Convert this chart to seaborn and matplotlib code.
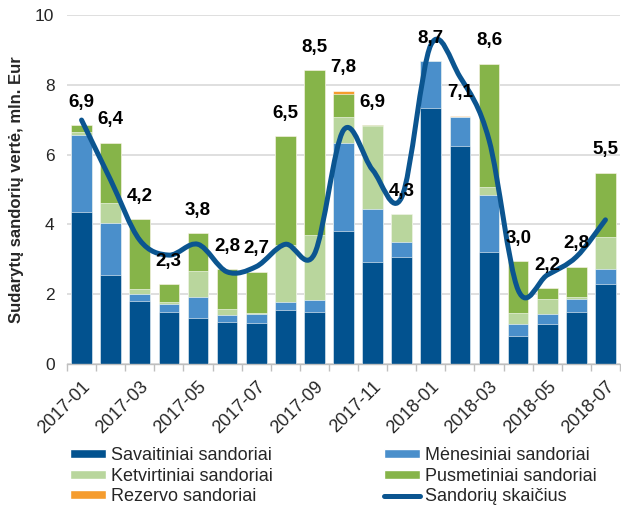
import numpy as np
import pandas as pd
import matplotlib
matplotlib.use("Agg")
import matplotlib.pyplot as plt
from matplotlib.path import Path
from matplotlib.patches import PathPatch, Patch
from matplotlib.lines import Line2D
import seaborn as sns

months = ["2017-01", "2017-02", "2017-03", "2017-04", "2017-05", "2017-06", "2017-07",
          "2017-08", "2017-09", "2017-10", "2017-11", "2017-12", "2018-01", "2018-02",
          "2018-03", "2018-04", "2018-05", "2018-06", "2018-07"]
savaitiniai = [4.35, 2.55, 1.81, 1.50, 1.33, 1.21, 1.18, 1.55, 1.50, 3.82, 2.91, 3.07, 7.33, 6.26, 3.22, 0.80, 1.15, 1.50, 2.28]
menesiniai = [2.20, 1.48, 0.19, 0.22, 0.60, 0.19, 0.24, 0.24, 0.33, 2.52, 1.53, 0.43, 1.35, 0.83, 1.62, 0.35, 0.28, 0.36, 0.44]
ketvirtiniai = [0.10, 0.57, 0.15, 0.07, 0.74, 0.17, 0.05, 1.62, 1.88, 0.73, 2.38, 0.79, 0.00, 0.00, 0.22, 0.30, 0.43, 0.07, 0.92]
pusmetiniai = [0.20, 1.74, 2.00, 0.49, 1.07, 1.15, 1.17, 3.12, 4.71, 0.67, 0.03, 0.00, 0.00, 0.00, 3.54, 1.50, 0.32, 0.86, 1.84]
rezervo = [0.00, 0.00, 0.00, 0.00, 0.00, 0.00, 0.00, 0.00, 0.00, 0.09, 0.00, 0.00, 0.00, 0.03, 0.00, 0.00, 0.00, 0.00, 0.00]
total_labels = ["6,9", "6,4", "4,2", "2,3", "3,8", "2,8", "2,7", "6,5", "8,5", "7,8",
                "6,9", "4,3", "8,7", "7,1", "8,6", "3,0", "2,2", "2,8", "5,5"]
sandoriu_skaicius = [6.99, 5.27, 3.55, 3.12, 3.43, 2.64, 2.79, 3.43, 3.15, 6.70,
                     5.56, 4.78, 9.14, 8.23, 6.42, 2.12, 2.55, 3.07, 4.13]
yticks = [0, 2, 4, 6, 8, 10]

series_names = ["Savaitiniai sandoriai", "Mėnesiniai sandoriai", "Ketvirtiniai sandoriai",
                "Pusmetiniai sandoriai", "Rezervo sandoriai"]
series_vals = [savaitiniai, menesiniai, ketvirtiniai, pusmetiniai, rezervo]
colors = ["#02528F", "#4A8FCB", "#B9D69D", "#86B449", "#F59C2E"]
line_color = "#0B5590"
line_name = "Sandorių skaičius"

sns.set_theme(style="white")
plt.rcParams['font.family'] = ['Liberation Sans', 'DejaVu Sans']

fig = plt.figure(figsize=(6.21, 5.07), dpi=100)
ax = fig.add_axes([67 / 621, 1 - 364 / 507, 553 / 621, 349 / 507])

cum = np.zeros(len(months))
cums = []
for vals in series_vals:
    cum = cum + np.array(vals)
    cums.append(cum.copy())

# draw from top cumulative to bottom so lower segments overlay
for name, c, col in reversed(list(zip(series_names, cums, colors))):
    d = pd.DataFrame({"month": months, "v": c})
    sns.barplot(data=d, x="month", y="v", color=col, saturation=1, width=0.71,
                edgecolor="white", linewidth=0.4, ax=ax)

# smoothed line (Excel-style bezier through data points)
x = np.arange(len(months), dtype=float)
y = np.array(sandoriu_skaicius)
verts = [(x[0], y[0])]
codes = [Path.MOVETO]
n = len(x)
for i in range(n - 1):
    p0 = np.array([x[max(i - 1, 0)], y[max(i - 1, 0)]])
    p1 = np.array([x[i], y[i]])
    p2 = np.array([x[i + 1], y[i + 1]])
    p3 = np.array([x[min(i + 2, n - 1)], y[min(i + 2, n - 1)]])
    c1 = p1 + (p2 - p0) / 6.0
    c2 = p2 - (p3 - p1) / 6.0
    verts += [tuple(c1), tuple(c2), tuple(p2)]
    codes += [Path.CURVE4, Path.CURVE4, Path.CURVE4]
ax.add_patch(PathPatch(Path(verts, codes), facecolor="none", edgecolor=line_color,
                       lw=3.6, capstyle="round", joinstyle="round", zorder=5))

# labels above bars
totals = cums[-1]
for i, (t, lab) in enumerate(zip(totals, total_labels)):
    ax.annotate(lab, (i, t), xytext=(0, 16.5), textcoords="offset points",
                ha="center", va="center", fontsize=13.5, fontweight="bold",
                color="black", zorder=6)

ax.set_xlim(-0.5, len(months) - 0.5)
ax.set_ylim(0, 10)
ax.set_yticks(yticks)
ax.set_yticklabels([str(v) for v in yticks], fontsize=12.5)
ax.yaxis.grid(True, color="#D9D9D9", linewidth=1.2)
ax.set_axisbelow(True)
for s in ["top", "right", "left"]:
    ax.spines[s].set_visible(False)
ax.spines["bottom"].set_color("#BFBFBF")
ax.spines["bottom"].set_linewidth(1.0)
ax.tick_params(axis="y", length=0, pad=9)

# x ticks: labels every other month, tick marks between categories
ax.set_xticks(np.arange(0, len(months), 2))
ax.set_xticklabels(months[::2], rotation=45, ha="right", rotation_mode="anchor", fontsize=13)
ax.tick_params(axis="x", which="major", length=0, pad=10)
ax.set_xticks(np.arange(-0.5, len(months), 1), minor=True)
ax.tick_params(axis="x", which="minor", length=5, color="#BFBFBF", width=1.0, bottom=True)
ax.set_xlabel("")
ax.set_ylabel("Sudarytų sandorių vertė, mln. Eur", fontsize=12, fontweight="bold", labelpad=8)

handles = [Patch(facecolor=colors[0]), Patch(facecolor=colors[2]), Patch(facecolor=colors[4]),
           Patch(facecolor=colors[1]), Patch(facecolor=colors[3]),
           Line2D([0], [0], color=line_color, lw=3.6, solid_capstyle="round")]
labels = [series_names[0], series_names[2], series_names[4],
          series_names[1], series_names[3], line_name]
fig.legend(handles, labels, ncol=2, loc="upper left", bbox_to_anchor=(70 / 621, 1 - 447 / 507),
           frameon=False, fontsize=13, handlelength=2.0, handleheight=0.4,
           handletextpad=0.28, columnspacing=6.15, labelspacing=0.2, borderpad=0,
           borderaxespad=0)

fig.savefig("out.png", dpi=100)
